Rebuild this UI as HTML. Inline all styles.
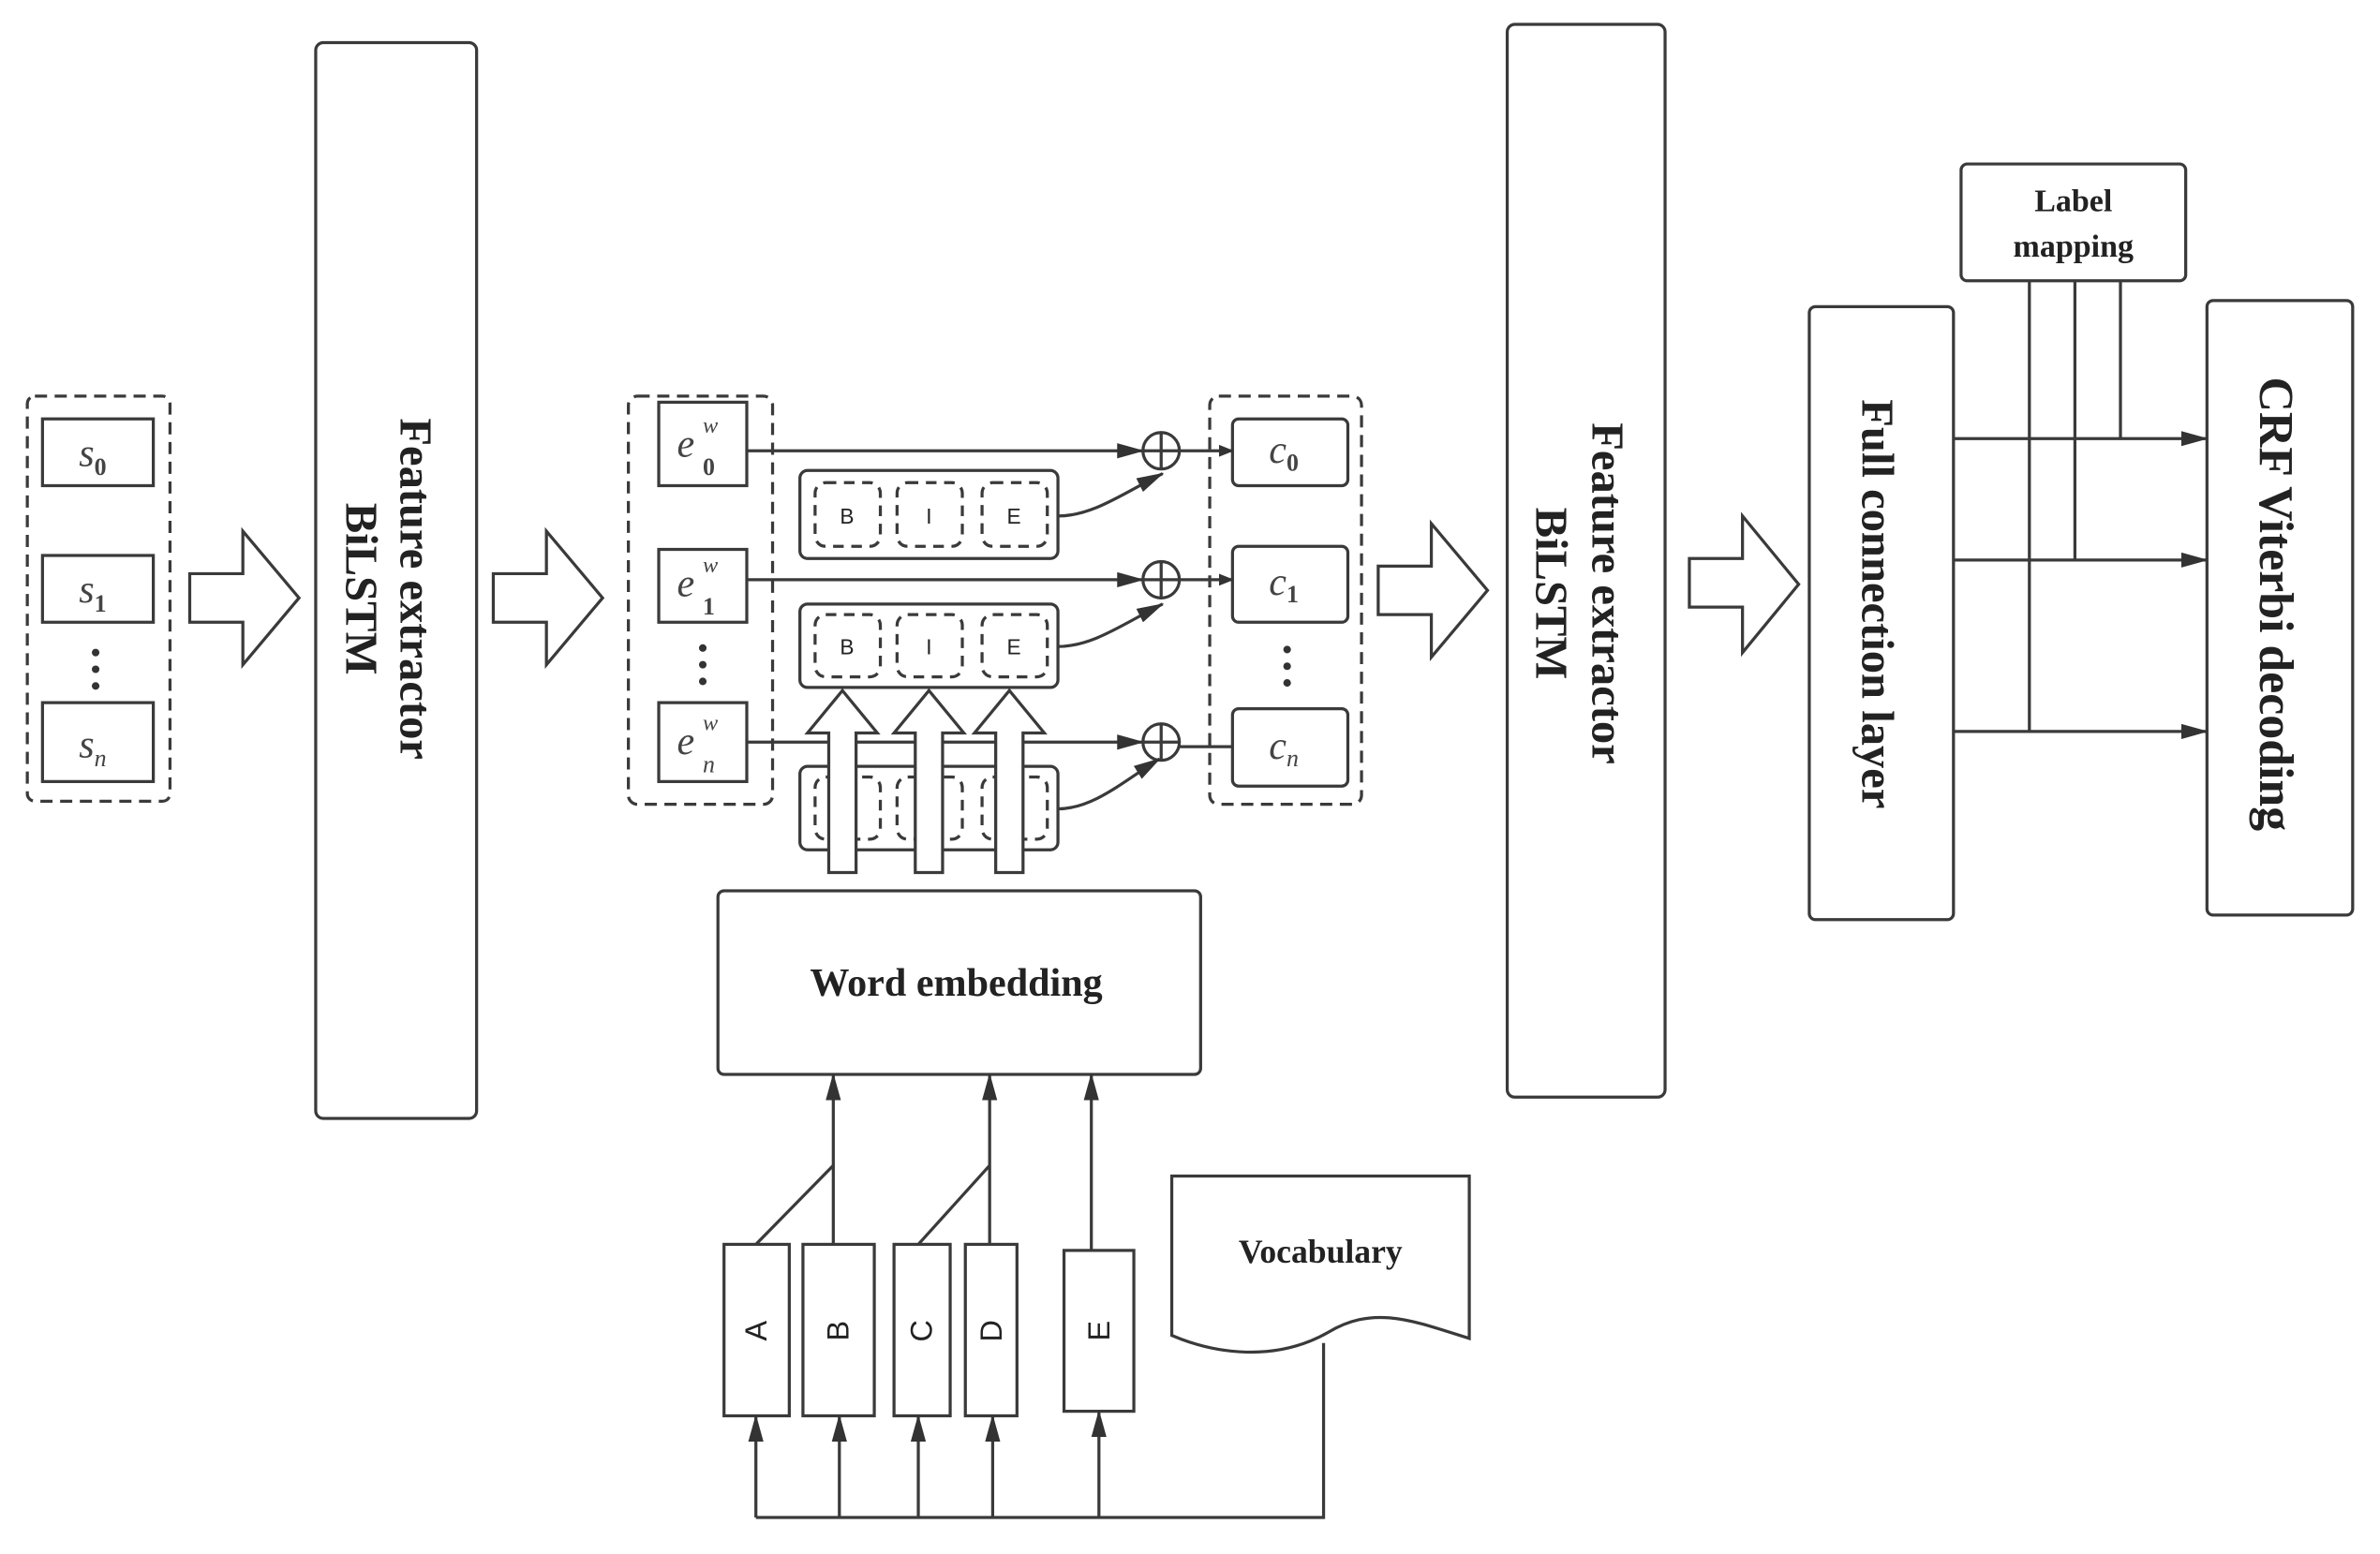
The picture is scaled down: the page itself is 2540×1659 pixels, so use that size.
<!DOCTYPE html>
<html><head><meta charset="utf-8"><style>
html,body{margin:0;padding:0;background:#fff;}
svg{display:block;}
.b{font-family:"Liberation Serif",serif;font-weight:bold;fill:#222;}
.m{font-family:"Liberation Serif",serif;font-style:italic;fill:#444;}
.s{font-family:"Liberation Sans",sans-serif;fill:#222;}
</style></head><body>
<svg width="2540" height="1659" viewBox="0 0 1568 1024" xmlns="http://www.w3.org/2000/svg">
<defs>
<marker id="ah" markerWidth="10" markerHeight="8" refX="9" refY="4" orient="auto" markerUnits="userSpaceOnUse"><path d="M0,0 L10,4 L0,8 z" fill="#333"/></marker>
<marker id="ah2" markerWidth="18" markerHeight="10" refX="17" refY="5" orient="auto" markerUnits="userSpaceOnUse"><path d="M0,0 L18,5 L0,10 z" fill="#333"/></marker>
</defs>
<g fill="none" stroke="#3a3a3a" stroke-width="2">
<!-- s group -->
<rect x="18" y="261" width="94" height="267" rx="5" stroke-dasharray="8,5"/>
<rect x="28" y="276" width="73" height="44"/>
<rect x="28" y="366" width="73" height="44"/>
<rect x="28" y="463" width="73" height="52"/>
<!-- hollow arrows -->
<path d="M125,378 H160 V350 L197,394 L160,438 V410 H125 Z"/>
<path d="M325,378 H360 V350 L397,394 L360,438 V410 H325 Z"/>
<path d="M908,373 H943 V345 L980,389 L943,433 V405 H908 Z"/>
<path d="M1113,368 H1148 V340 L1185,385 L1148,430 V400 H1113 Z"/>
<!-- BiLSTM boxes -->
<rect x="208" y="28" width="106" height="709" rx="5"/>
<rect x="993" y="16" width="104" height="707" rx="5"/>
<!-- e group -->
<rect x="414" y="261" width="95" height="269" rx="6" stroke-dasharray="8,5"/>
<rect x="434" y="265" width="58" height="55"/>
<rect x="434" y="362" width="58" height="48"/>
<rect x="434" y="463" width="58" height="52"/>
<!-- c group -->
<rect x="797" y="261" width="100" height="269" rx="6" stroke-dasharray="8,5"/>
<rect x="812" y="276" width="76" height="44" rx="4"/>
<rect x="812" y="360" width="76" height="50" rx="4"/>
<rect x="812" y="467" width="76" height="51" rx="4"/>
<!-- BIE boxes -->
<rect x="527" y="310" width="170" height="58" rx="5"/>
<rect x="537" y="318" width="43" height="42" rx="7" stroke-dasharray="7,5"/>
<rect x="591" y="318" width="43" height="42" rx="7" stroke-dasharray="7,5"/>
<rect x="647" y="318" width="43" height="42" rx="7" stroke-dasharray="7,5"/>
<rect x="527" y="398" width="170" height="55" rx="5"/>
<rect x="537" y="405" width="43" height="41" rx="7" stroke-dasharray="7,5"/>
<rect x="591" y="405" width="43" height="41" rx="7" stroke-dasharray="7,5"/>
<rect x="647" y="405" width="43" height="41" rx="7" stroke-dasharray="7,5"/>
<rect x="527" y="505" width="170" height="55" rx="5"/>
<rect x="537" y="512" width="43" height="41" rx="7" stroke-dasharray="7,5"/>
<rect x="591" y="512" width="43" height="41" rx="7" stroke-dasharray="7,5"/>
<rect x="647" y="512" width="43" height="41" rx="7" stroke-dasharray="7,5"/>
<!-- lines to plus -->
<line x1="492" y1="297" x2="753" y2="297" marker-end="url(#ah2)"/>
<line x1="492" y1="382" x2="753" y2="382" marker-end="url(#ah2)"/>
<line x1="492" y1="489" x2="753" y2="489" marker-end="url(#ah2)"/>
<circle cx="765" cy="297" r="12"/><path d="M765,285 V309 M753,297 H777"/>
<circle cx="765" cy="382" r="12"/><path d="M765,370 V394 M753,382 H777"/>
<circle cx="765" cy="489" r="12"/><path d="M765,477 V501 M753,489 H777"/>
<line x1="777" y1="297" x2="812" y2="297" marker-end="url(#ah)"/>
<line x1="777" y1="382" x2="812" y2="382" marker-end="url(#ah)"/>
<line x1="777" y1="492" x2="812" y2="492"/>
<path d="M697,340 C720,340 740,325 766,312" marker-end="url(#ah2)"/>
<path d="M697,426 C720,426 740,411 766,398" marker-end="url(#ah2)"/>
<path d="M697,533 C720,533 740,515 764,500" marker-end="url(#ah2)"/>
<!-- up hollow arrows -->
<path d="M546,575 V483 H532 L555,455 L578,483 H564 V575 Z" fill="#fff"/>
<path d="M603,575 V483 H589 L612,455 L635,483 H621 V575 Z" fill="#fff"/>
<path d="M656,575 V483 H642 L665,455 L688,483 H674 V575 Z" fill="#fff"/>
<!-- word embedding -->
<rect x="473" y="587" width="318" height="121" rx="4"/>
<line x1="549" y1="820" x2="549" y2="708" marker-end="url(#ah2)"/>
<line x1="652" y1="820" x2="652" y2="708" marker-end="url(#ah2)"/>
<line x1="719" y1="824" x2="719" y2="708" marker-end="url(#ah2)"/>
<line x1="498" y1="820" x2="549" y2="768"/>
<line x1="605" y1="820" x2="652" y2="768"/>
<rect x="477" y="820" width="43" height="113"/>
<rect x="529" y="820" width="47" height="113"/>
<rect x="589" y="820" width="37" height="113"/>
<rect x="636" y="820" width="34" height="113"/>
<rect x="701" y="824" width="46" height="106"/>
<path d="M498,1000 H872 V885"/>
<line x1="498" y1="1000" x2="498" y2="933" marker-end="url(#ah2)"/>
<line x1="553" y1="1000" x2="553" y2="933" marker-end="url(#ah2)"/>
<line x1="605" y1="1000" x2="605" y2="933" marker-end="url(#ah2)"/>
<line x1="654" y1="1000" x2="654" y2="933" marker-end="url(#ah2)"/>
<line x1="724" y1="1000" x2="724" y2="930" marker-end="url(#ah2)"/>
<path d="M772,775 H968 V882 C930,870 905,860 875,878 C840,898 800,892 772,880 Z"/>
<!-- right side -->
<rect x="1192" y="202" width="95" height="404" rx="4"/>
<rect x="1292" y="108" width="148" height="77" rx="4"/>
<rect x="1454" y="198" width="96" height="405" rx="4"/>
<line x1="1337" y1="185" x2="1337" y2="483"/>
<line x1="1367" y1="185" x2="1367" y2="369"/>
<line x1="1397" y1="185" x2="1397" y2="289"/>
<line x1="1287" y1="289" x2="1454" y2="289" marker-end="url(#ah2)"/>
<line x1="1287" y1="369" x2="1454" y2="369" marker-end="url(#ah2)"/>
<line x1="1287" y1="482" x2="1454" y2="482" marker-end="url(#ah2)"/>
</g>
<!-- dots -->
<g fill="#333">
<circle cx="63" cy="430" r="2.5"/><circle cx="63" cy="441" r="2.5"/><circle cx="63" cy="452" r="2.5"/>
<circle cx="463" cy="427" r="2.5"/><circle cx="463" cy="438" r="2.5"/><circle cx="463" cy="449" r="2.5"/>
<circle cx="848" cy="428" r="2.5"/><circle cx="848" cy="439" r="2.5"/><circle cx="848" cy="450" r="2.5"/>
</g>
<!-- math labels -->
<g class="m" font-size="26">
<text x="52" y="307">s<tspan font-size="16" dy="6" font-style="normal" font-weight="bold">0</tspan></text>
<text x="52" y="397">s<tspan font-size="16" dy="6" font-style="normal" font-weight="bold">1</tspan></text>
<text x="52" y="499">s<tspan font-size="16" dy="6">n</tspan></text>
<text x="446" y="301">e</text><text x="463" y="285" font-size="15">w</text><text x="463" y="313" font-size="16" font-style="normal" font-weight="bold">0</text>
<text x="446" y="393">e</text><text x="463" y="377" font-size="15">w</text><text x="463" y="405" font-size="16" font-style="normal" font-weight="bold">1</text>
<text x="446" y="497">e</text><text x="463" y="481" font-size="15">w</text><text x="463" y="509" font-size="16">n</text>
<text x="836" y="305">c<tspan font-size="16" dy="5" font-style="normal" font-weight="bold">0</tspan></text>
<text x="836" y="392">c<tspan font-size="16" dy="5" font-style="normal" font-weight="bold">1</tspan></text>
<text x="836" y="500">c<tspan font-size="16" dy="5">n</tspan></text>
</g>
<g class="s" font-size="14" text-anchor="middle" fill="#444">
<text x="558" y="345">B</text><text x="612" y="345">I</text><text x="668" y="345">E</text>
<text x="558" y="431">B</text><text x="612" y="431">I</text><text x="668" y="431">E</text>
</g>
<!-- ABCDE rotated -->
<g class="s" font-size="20" text-anchor="middle">
<text transform="translate(505,877) rotate(-90)">A</text>
<text transform="translate(559,877) rotate(-90)">B</text>
<text transform="translate(614,877) rotate(-90)">C</text>
<text transform="translate(660,877) rotate(-90)">D</text>
<text transform="translate(731,877) rotate(-90)">E</text>
</g>
<!-- bold labels -->
<g class="b" text-anchor="middle">
<text x="630" y="656" font-size="26">Word embedding</text>
<text x="870" y="832" font-size="22">Vocabulary</text>
<text x="1366" y="139" font-size="21">Label</text>
<text x="1366" y="169" font-size="21">mapping</text>
<text transform="translate(264,388) rotate(90)" font-size="30">Feature extractor</text>
<text transform="translate(228,388) rotate(90)" font-size="30">BiLSTM</text>
<text transform="translate(1049,391) rotate(90)" font-size="30">Feature extractor</text>
<text transform="translate(1012,391) rotate(90)" font-size="30">BiLSTM</text>
<text transform="translate(1227,398) rotate(90)" font-size="30">Full connection layer</text>
<text transform="translate(1489,398) rotate(90)" font-size="32">CRF Viterbi decoding</text>
</g>
</svg>
</body></html>
